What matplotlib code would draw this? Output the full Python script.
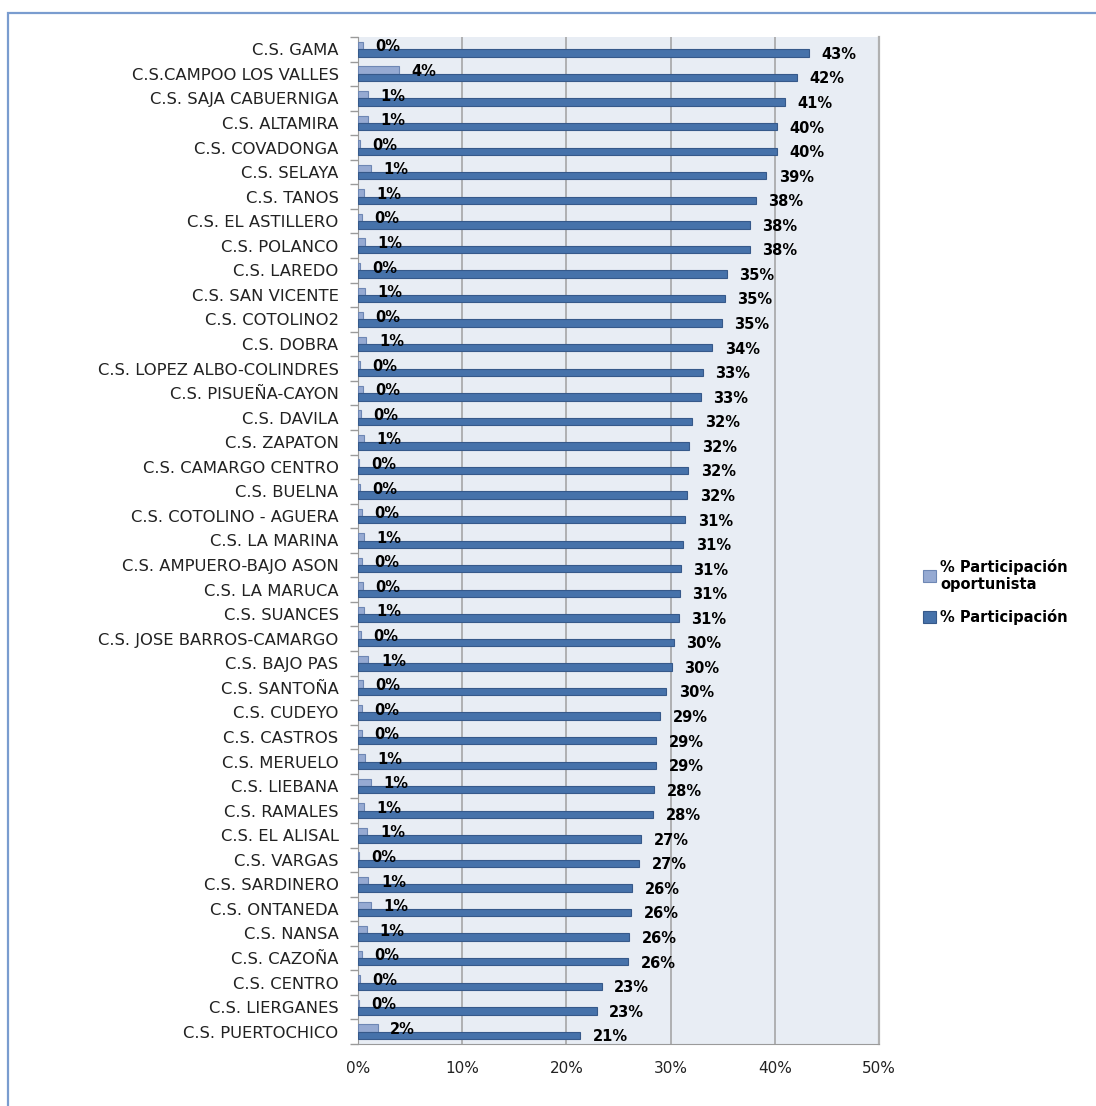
import matplotlib.pyplot as plt
import matplotlib.patches as mpatches
import numpy as np

centros = [
    "C.S. GAMA", "C.S.CAMPOO LOS VALLES", "C.S. SAJA CABUERNIGA", "C.S. ALTAMIRA",
    "C.S. COVADONGA", "C.S. SELAYA", "C.S. TANOS", "C.S. EL ASTILLERO",
    "C.S. POLANCO", "C.S. LAREDO", "C.S. SAN VICENTE", "C.S. COTOLINO2",
    "C.S. DOBRA", "C.S. LOPEZ ALBO-COLINDRES", "C.S. PISUEÑA-CAYON", "C.S. DAVILA",
    "C.S. ZAPATON", "C.S. CAMARGO CENTRO", "C.S. BUELNA", "C.S. COTOLINO - AGUERA",
    "C.S. LA MARINA", "C.S. AMPUERO-BAJO ASON", "C.S. LA MARUCA", "C.S. SUANCES",
    "C.S. JOSE BARROS-CAMARGO", "C.S. BAJO PAS", "C.S. SANTOÑA", "C.S. CUDEYO",
    "C.S. CASTROS", "C.S. MERUELO", "C.S. LIEBANA", "C.S. RAMALES",
    "C.S. EL ALISAL", "C.S. VARGAS", "C.S. SARDINERO", "C.S. ONTANEDA",
    "C.S. NANSA", "C.S. CAZOÑA", "C.S. CENTRO", "C.S. LIERGANES", "C.S. PUERTOCHICO",
]

participacion = [
    43.3, 42.1, 41.0, 40.2, 40.2, 39.2, 38.2, 37.6, 37.6, 35.4, 35.2, 34.9,
    34.0, 33.1, 32.9, 32.1, 31.8, 31.7, 31.6, 31.4, 31.2, 31.0, 30.9, 30.8,
    30.3, 30.1, 29.6, 29.0, 28.6, 28.6, 28.45, 28.35, 27.2, 27.0, 26.3, 26.2,
    26.0, 25.9, 23.4, 22.9, 21.3,
]

oportunista = [
    0.45, 3.9, 0.95, 0.95, 0.2, 1.25, 0.55, 0.35, 0.65, 0.2, 0.7, 0.45,
    0.8, 0.2, 0.45, 0.3, 0.55, 0.1, 0.2, 0.35, 0.55, 0.35, 0.45, 0.55,
    0.25, 1.0, 0.45, 0.35, 0.35, 0.7, 1.25, 0.55, 0.9, 0.1, 1.0, 1.25,
    0.85, 0.35, 0.2, 0.05, 1.9,
]

xticks = [0, 10, 20, 30, 40, 50]

c_dark = "#4672AA"
c_dark_edge = "#36598A"
c_light = "#96AAD2"
c_light_edge = "#6E87B4"

fig = plt.figure(figsize=(10.96, 11.06), dpi=100)
# outer chart border (cut off at right and bottom like the original)
fig.patches.append(mpatches.Rectangle((8 / 1096, -0.1), 1.2, 0.1 + 1 - 13 / 1106,
                                      transform=fig.transFigure, fill=False,
                                      edgecolor="#7A9CCF", linewidth=1.6))

ax = fig.add_axes([358 / 1096, 1 - 1044 / 1106, 521 / 1096, 1007 / 1106])
ax.set_facecolor("#E8EDF4")

n = len(centros)
y = np.arange(n)
h = 0.3

b_op = ax.barh(y - h / 2, oportunista, height=h, color=c_light, edgecolor=c_light_edge,
               linewidth=0.8, label="% Participación\noportunista", zorder=3)
b_pa = ax.barh(y + h / 2, participacion, height=h, color=c_dark, edgecolor=c_dark_edge,
               linewidth=0.8, label="% Participación", zorder=3)

for yy, v in zip(y, oportunista):
    ax.annotate(f"{v:.0f}%", (v, yy - h / 2), xytext=(9, -1), textcoords="offset points",
                ha="left", va="center", fontsize=10.5, fontweight="bold", zorder=5)
for yy, v in zip(y, participacion):
    ax.annotate(f"{v:.0f}%", (v, yy + h / 2), xytext=(9, -1), textcoords="offset points",
                ha="left", va="center", fontsize=10.5, fontweight="bold", zorder=5,
                annotation_clip=False)

ax.set_ylim(n - 0.5, -0.5)
ax.set_xlim(0, 50)
ax.set_yticks(y)
ax.set_yticklabels(centros, fontsize=11.8, color="#222222")
ax.set_yticks(np.arange(-0.5, n, 1), minor=True)
ax.tick_params(axis="y", which="major", length=0, pad=14)
ax.tick_params(axis="y", which="minor", length=6, color="#9A9A9A", width=1)
ax.set_xticks(xticks)
ax.set_xticklabels([f"{t}%" for t in xticks], fontsize=11, color="#222222")
ax.tick_params(axis="x", length=0, pad=12)

ax.grid(axis="x", color="#A0A0A0", linewidth=1.1, zorder=1)
ax.set_axisbelow(True)
ax.spines["top"].set_visible(False)
ax.spines["right"].set_color("#B0B0B0")
ax.spines["right"].set_linewidth(1.6)
ax.spines["left"].set_color("#9A9A9A")
ax.spines["bottom"].set_color("#9A9A9A")

handles = [b_op, b_pa]
ax.legend(handles=handles, loc="center left", bbox_to_anchor=(910 / 1096, 1 - 592 / 1106),
          bbox_transform=fig.transFigure, frameon=False, handlelength=0.9, handleheight=0.9,
          handletextpad=0.25, labelspacing=1.2, prop={"size": 10.5, "weight": "bold"})

fig.savefig("out.png", dpi=100)
